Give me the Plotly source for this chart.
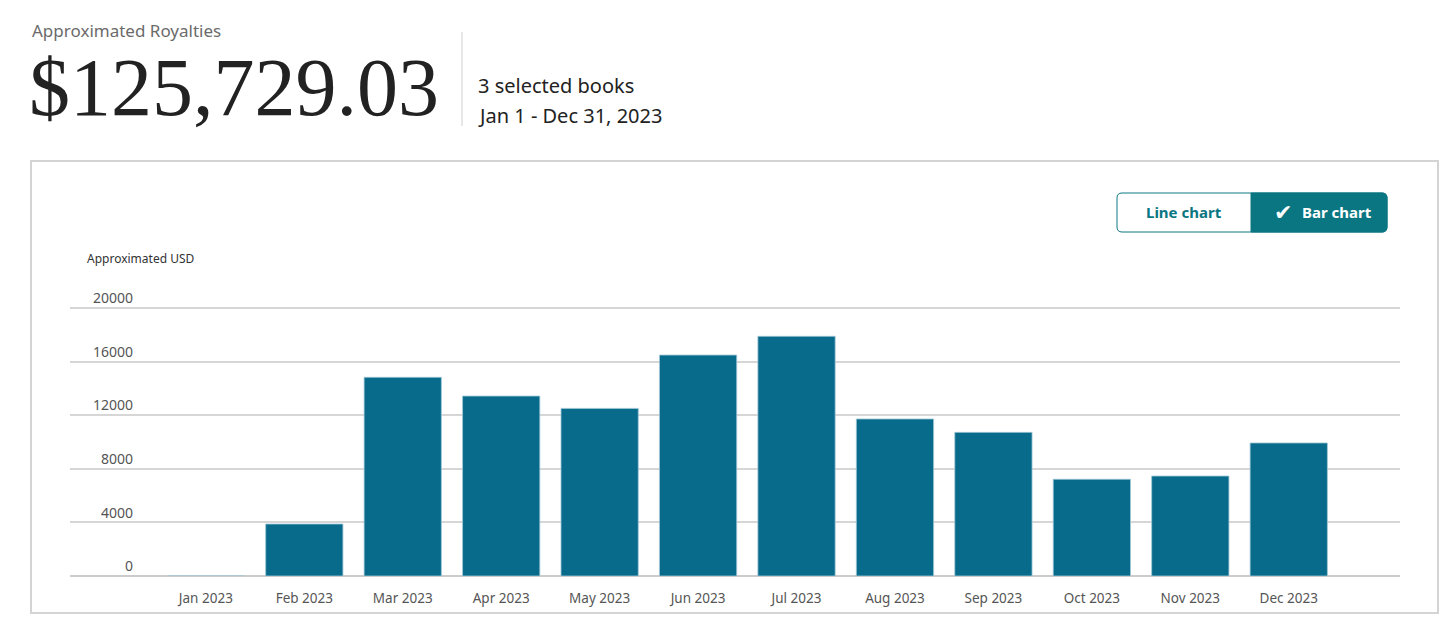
import plotly.graph_objects as go

months = ['Jan 2023', 'Feb 2023', 'Mar 2023', 'Apr 2023', 'May 2023', 'Jun 2023',
          'Jul 2023', 'Aug 2023', 'Sep 2023', 'Oct 2023', 'Nov 2023', 'Dec 2023']
royalties = [0, 3880, 14830, 13430, 12510, 16490, 17890, 11720, 10720, 7220, 7460, 9930]
y_ticks = [0, 4000, 8000, 12000, 16000, 20000]

total_text = '$125,729.03'
books_text = '3 selected books'
period_text = 'Jan 1 - Dec 31, 2023'

# page body has an 8px margin, so the figure is drawn a bit smaller and shifted
OFF = 8
W, H = 1452 - 2 * OFF, 641 - 2 * OFF
ML, MR, MT, MB = 70 - OFF, 52 - OFF, 304 - OFF, 65 - OFF
PW, PH = W - ML - MR, H - MT - MB

BAR = '#096b8c'
TEAL = '#0a7682'


def px(x):
    return (x - OFF - ML) / PW


def py(y):
    return (H + OFF - MB - y) / PH


def rounded(x0, y0, x1, y1, r, left=True, right=True):
    # path in paper coords, corners drawn with quadratic curves
    rx, ry = r / PW, r / PH
    a0, b0, a1, b1 = px(x0), py(y0), px(x1), py(y1)
    p = []
    if left:
        p.append(f'M{a0 + rx},{b0}')
    else:
        p.append(f'M{a0},{b0}')
    if right:
        p.append(f'L{a1 - rx},{b0} Q{a1},{b0} {a1},{b0 - ry} L{a1},{b1 + ry} Q{a1},{b1} {a1 - rx},{b1}')
    else:
        p.append(f'L{a1},{b0} L{a1},{b1}')
    if left:
        p.append(f'L{a0 + rx},{b1} Q{a0},{b1} {a0},{b1 + ry} L{a0},{b0 - ry} Q{a0},{b0} {a0 + rx},{b0} Z')
    else:
        p.append(f'L{a0},{b1} Z')
    return ' '.join(p)


fig = go.Figure()
fig.add_trace(go.Bar(
    x=months, y=royalties,
    marker=dict(color=BAR, line=dict(color='rgba(160,200,215,0.8)', width=1)),
    hovertemplate='%{x}<br>%{y:,.2f} USD<extra></extra>',
))

shapes = [
    # outer chart card
    dict(type='rect', xref='paper', yref='paper', x0=px(31), x1=px(1438), y0=py(161), y1=py(613),
         line=dict(color='#d4d4d4', width=2), layer='below'),
    # divider in header
    dict(type='line', xref='paper', yref='paper', x0=px(462), x1=px(462), y0=py(32), y1=py(126),
         line=dict(color='#cfcfcf', width=1)),
    # toggle buttons
    dict(type='path', xref='paper', yref='paper', path=rounded(1117, 193, 1387, 232, 5),
         line=dict(color=TEAL, width=1), fillcolor='white'),
    dict(type='path', xref='paper', yref='paper', path=rounded(1251, 193, 1387, 232, 5, left=False),
         line=dict(color=TEAL, width=1), fillcolor=TEAL),
]

annotations = [
    dict(text='Approximated Royalties', x=px(30), y=py(31), font=dict(size=17, color='#6b6b6b')),
    dict(text=total_text, x=px(27), y=py(87), height=84,
         font=dict(family='Liberation Serif', size=82, color='#222222')),
    dict(text=books_text, x=px(476), y=py(85), font=dict(size=20, color='#222222')),
    dict(text=period_text, x=px(476), y=py(115), font=dict(size=20, color='#222222')),
    dict(text='<b>Line chart</b>', x=px(1184), y=py(212), xanchor='center', font=dict(size=15, color=TEAL)),
    dict(text='✔', x=px(1283), y=py(212), xanchor='center', font=dict(family='DejaVu Sans', size=22, color='white')),
    dict(text='<b>Bar chart</b>', x=px(1300), y=py(212), font=dict(size=15, color='white')),
    dict(text='Approximated USD', x=px(85), y=py(259), font=dict(size=12, color='#333333')),
]
for a in annotations:
    a.setdefault('xanchor', 'left')
    a.update(xref='paper', yref='paper', yanchor='middle', showarrow=False)

fig.update_layout(
    width=W, height=H,
    margin=dict(l=ML, r=MR, t=MT, b=MB),
    paper_bgcolor='white',
    plot_bgcolor='white',
    font=dict(family='Noto Sans', color='#555555', size=13),
    bargap=0.215,
    showlegend=False,
    shapes=shapes,
    annotations=annotations,
    xaxis=dict(
        type='category',
        range=[-1.38, 12.13],
        showgrid=False,
        showline=False,
        zeroline=False,
        ticks='',
        ticklabelstandoff=12,
        tickfont=dict(size=13.5, color='#555555'),
    ),
    yaxis=dict(
        range=[0, 20300],
        tickvals=y_ticks,
        ticktext=[str(v) for v in y_ticks],
        showgrid=True,
        gridcolor='#d6d6d6',
        gridwidth=1.5,
        zeroline=True,
        zerolinecolor='#cccccc',
        zerolinewidth=2,
        showline=False,
        ticks='',
        ticklabelposition='outside top',
        ticklabelstandoff=-64,
        tickfont=dict(size=14, color='#555555'),
    ),
)

fig.write_html('out.html')
